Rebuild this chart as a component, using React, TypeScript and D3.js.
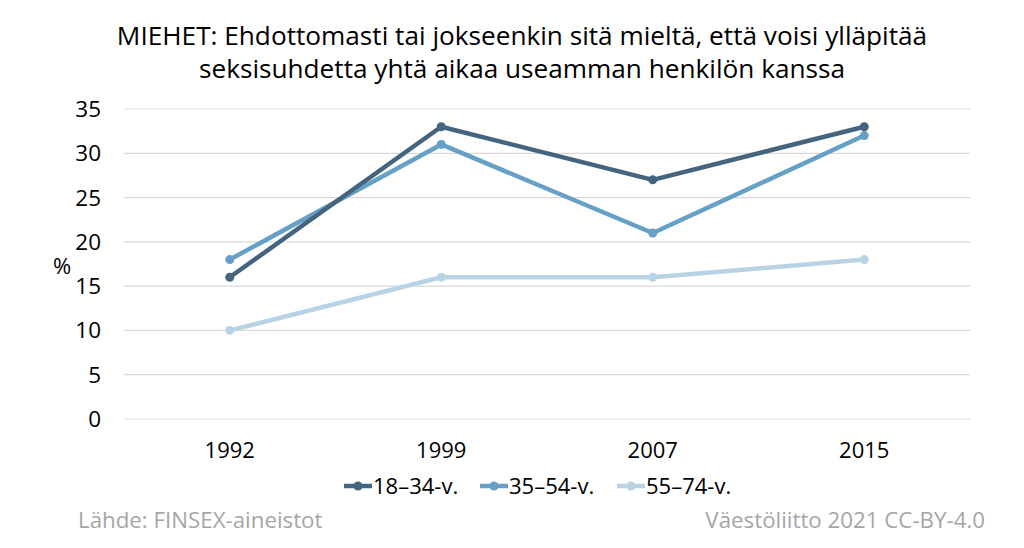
import React from "react";
import * as d3 from "d3";

const years = ["1992", "1999", "2007", "2015"];
const seriesNames = ["18–34-v.", "35–54-v.", "55–74-v."];
const s1834 = [16, 33, 27, 33];
const s3554 = [18, 31, 21, 32];
const s5574 = [10, 16, 16, 18];
const colors = ["#44647f", "#66a0c6", "#b8d4e4"];
const yTicks = [0, 5, 10, 15, 20, 25, 30, 35];
const titleLines = [
  "MIEHET: Ehdottomasti tai jokseenkin sitä mieltä, että voisi ylläpitää",
  "seksisuhdetta yhtä aikaa useamman henkilön kanssa",
];

export default function App() {
  const W = 1024, H = 548;
  const font = "Open Sans, Noto Sans, sans-serif";
  const x = d3.scaleBand().domain(years).range([124, 970]);
  const y = d3.scaleLinear().domain([0, 35]).range([419, 109]);
  const all = [s1834, s3554, s5574];
  const line = d3
    .line<number>()
    .x((_, i) => (x(years[i]) as number) + x.bandwidth() / 2)
    .y((d) => y(d));
  const legendX = [344, 480, 617];
  return (
    <svg width={W} height={H} style={{ position: "absolute", left: 0, top: 0, background: "#fff" }} fontFamily={font}>
      {titleLines.map((t, i) => (
        <text key={i} x={522} y={45 + i * 33} textAnchor="middle" fontSize={26.2} fill="#000">
          {t}
        </text>
      ))}
      {yTicks.map((t) => (
        <g key={t}>
          <line x1={124} x2={970} y1={y(t)} y2={y(t)} stroke="#d9d9d9" strokeWidth={1.2} />
          <text x={101} y={y(t) + 8} textAnchor="end" fontSize={22.5} fill="#000">
            {t}
          </text>
        </g>
      ))}
      <text x={62} y={274} textAnchor="middle" fontSize={22} fill="#000">%</text>
      {years.map((yr) => (
        <text key={yr} x={(x(yr) as number) + x.bandwidth() / 2} y={458} textAnchor="middle" fontSize={22} fill="#000">
          {yr}
        </text>
      ))}
      {[2, 1, 0].map((si) => (
        <g key={si}>
          <path d={line(all[si]) as string} fill="none" stroke={colors[si]} strokeWidth={4.5} strokeLinejoin="round" />
          {all[si].map((v, i) => (
            <circle key={i} cx={(x(years[i]) as number) + x.bandwidth() / 2} cy={y(v)} r={4.5} fill={colors[si]} />
          ))}
        </g>
      ))}
      {seriesNames.map((n, i) => (
        <g key={n} transform={`translate(${legendX[i]},486)`}>
          <line x1={0} x2={28} y1={0} y2={0} stroke={colors[i]} strokeWidth={4.5} />
          <circle cx={14} cy={0} r={4.5} fill={colors[i]} />
          <text x={29} y={8} fontSize={22} fill="#000">{n}</text>
        </g>
      ))}
      <text x={78} y={528} fontSize={22.3} fill="#a6a6a6">Lähde: FINSEX-aineistot</text>
      <text x={985} y={528} textAnchor="end" fontSize={22.3} fill="#a6a6a6">Väestöliitto 2021 CC-BY-4.0</text>
    </svg>
  );
}
